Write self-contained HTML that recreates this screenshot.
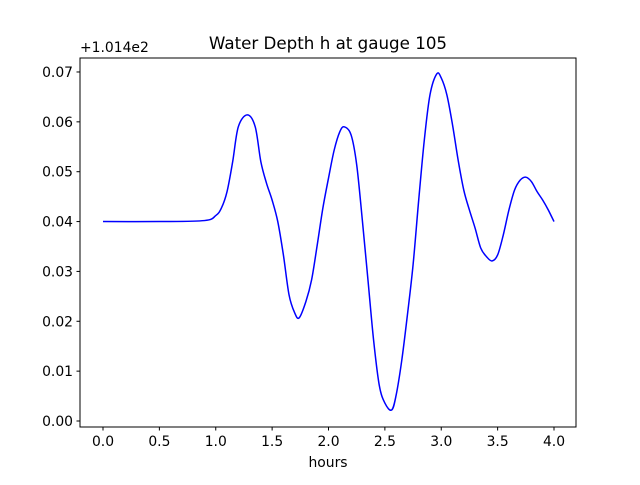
<!DOCTYPE html>
<html><head><meta charset="utf-8"><style>
body{margin:0;background:#fff}
svg{font-family:"DejaVu Sans","Liberation Sans",sans-serif}
</style></head><body>
<svg width="640" height="480" xmlns="http://www.w3.org/2000/svg">
<rect width="640" height="480" fill="#fff"/>
<text x="328" y="49" font-size="16.7" text-anchor="middle">Water Depth h at gauge 105</text>
<text x="80" y="52" font-size="13.9">+1.014e2</text>
<g id="ticks"></g>
<path id="line" fill="none" stroke="#0000ff" stroke-width="1.5"/>
<rect x="80" y="58" width="496" height="369" fill="none" stroke="#000" stroke-width="1"/>
<text x="328" y="467" font-size="13.9" text-anchor="middle">hours</text>
</svg>
<script>
const hours=[0,0.5,0.9,1.0,1.05,1.1,1.15,1.2,1.28,1.35,1.4,1.45,1.5,1.55,1.6,1.65,1.7,1.74,1.8,1.85,1.9,1.95,2.0,2.05,2.1,2.14,2.2,2.25,2.3,2.35,2.4,2.45,2.5,2.56,2.6,2.65,2.7,2.75,2.8,2.85,2.9,2.96,3.0,3.05,3.1,3.15,3.2,3.25,3.3,3.35,3.4,3.45,3.5,3.55,3.6,3.65,3.7,3.75,3.8,3.85,3.9,3.95,4.0];
const depth=[0.040,0.040,0.0402,0.0412,0.0427,0.046,0.052,0.059,0.0614,0.059,0.052,0.0477,0.0443,0.040,0.0333,0.0253,0.0217,0.0207,0.024,0.0283,0.0353,0.0427,0.0487,0.0543,0.058,0.059,0.0574,0.0514,0.0403,0.0283,0.0162,0.0072,0.0036,0.0022,0.0052,0.0122,0.0213,0.0313,0.0443,0.0564,0.0654,0.0696,0.0688,0.0654,0.0594,0.0523,0.0463,0.0423,0.0387,0.0347,0.033,0.0321,0.0333,0.0373,0.0423,0.0463,0.0483,0.0489,0.048,0.046,0.0443,0.0423,0.040];
const xTicks=[0,0.5,1,1.5,2,2.5,3,3.5,4];
const xTickLabels=["0.0","0.5","1.0","1.5","2.0","2.5","3.0","3.5","4.0"];
const yTicks=[0,0.01,0.02,0.03,0.04,0.05,0.06,0.07];
const yTickLabels=["0.00","0.01","0.02","0.03","0.04","0.05","0.06","0.07"];
const X=v=>103+v*112.75, Y=v=>421-v*4986;
const NS="http://www.w3.org/2000/svg";
const g=document.getElementById('ticks');
function mk(t,a){const e=document.createElementNS(NS,t);for(const k in a)e.setAttribute(k,a[k]);g.appendChild(e);return e;}
xTicks.forEach((v,i)=>{
 const l=mk('line',{x1:X(v),x2:X(v),y1:427,y2:430.5,stroke:'#000'});
 
 
 const t=mk('text',{x:X(v),y:446,'font-size':13.9,'text-anchor':'middle'});t.textContent=xTickLabels[i];
 
 
});
yTicks.forEach((v,i)=>{
 const l=mk('line',{x1:76.5,x2:80,y1:Y(v),y2:Y(v),stroke:'#000'});
 
 
 const t=mk('text',{x:73,y:Y(v)+5,'font-size':13.9,'text-anchor':'end'});t.textContent=yTickLabels[i];
 
 
});
const P=hours.map((h,i)=>[X(h),Y(depth[i])]);
let d='M'+P[0][0]+','+P[0][1];
for(let i=0;i<P.length-1;i++){
 const p0=P[Math.max(i-1,0)],p1=P[i],p2=P[i+1],p3=P[Math.min(i+2,P.length-1)];
 const c1=[p1[0]+(p2[0]-p0[0])/6,p1[1]+(p2[1]-p0[1])/6];
 const c2=[p2[0]-(p3[0]-p1[0])/6,p2[1]-(p3[1]-p1[1])/6];
 d+=` C${c1[0]},${c1[1]} ${c2[0]},${c2[1]} ${p2[0]},${p2[1]}`;
}
document.getElementById('line').setAttribute('d',d);
</script>
</body></html>
